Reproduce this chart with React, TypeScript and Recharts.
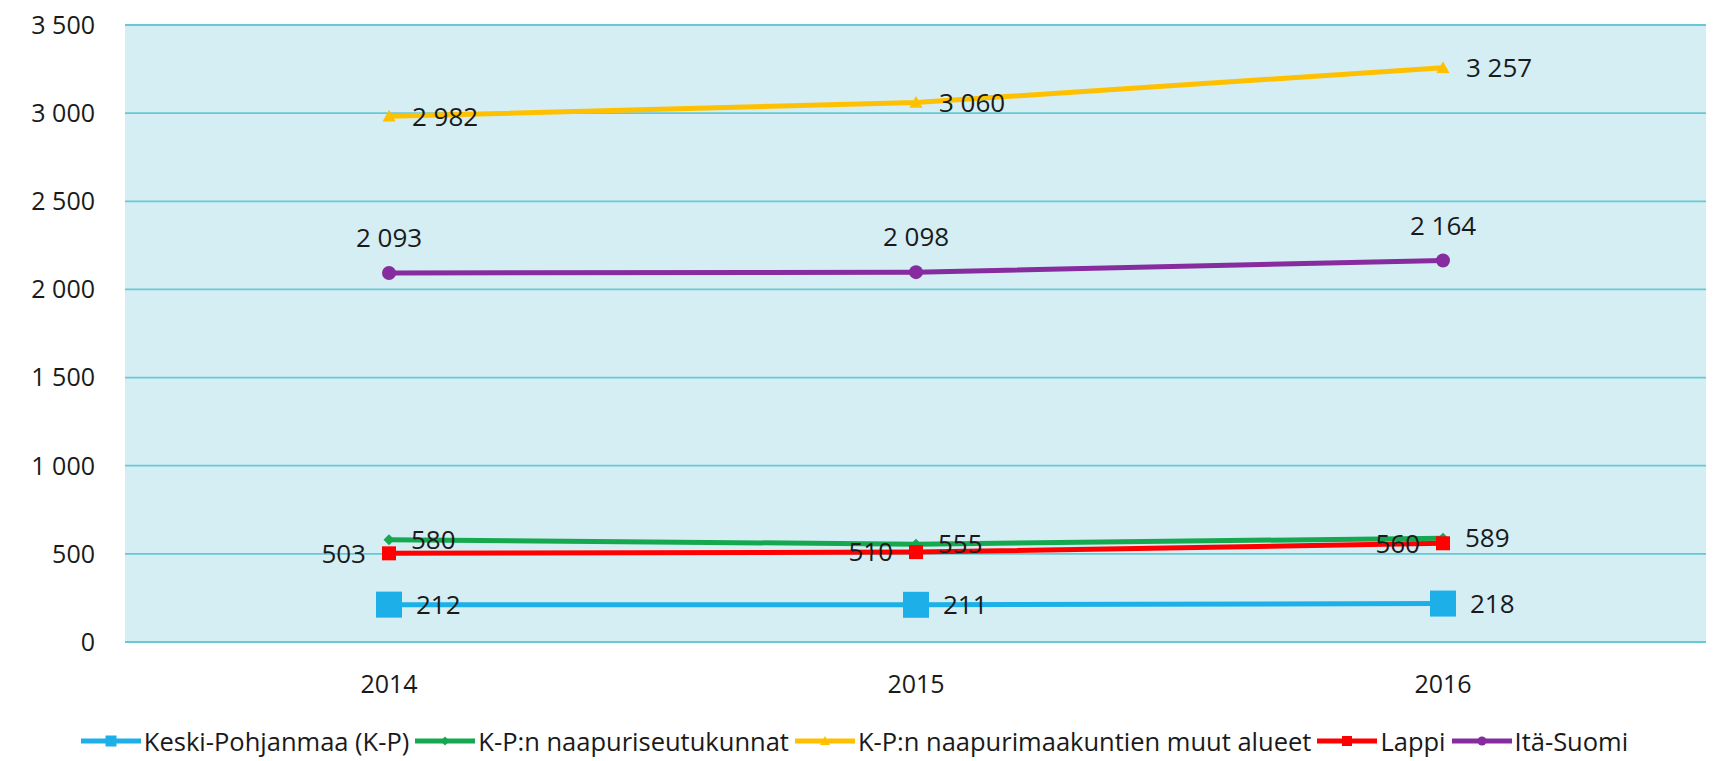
import React from 'react';
import { LineChart, Line, XAxis, YAxis, CartesianGrid, Legend, LabelList } from 'recharts';

const years = ['2014', '2015', '2016'];
const keskiPohjanmaa = [212, 211, 218];
const naapuriseutukunnat = [580, 555, 589];
const muutAlueet = [2982, 3060, 3257];
const lappi = [503, 510, 560];
const itaSuomi = [2093, 2098, 2164];
const yTicks = [0, 500, 1000, 1500, 2000, 2500, 3000, 3500];

const seriesNames = {
  kp: 'Keski-Pohjanmaa (K-P)',
  naapuri: 'K-P:n naapuriseutukunnat',
  muut: 'K-P:n naapurimaakuntien muut alueet',
  lappi: 'Lappi',
  ita: 'Itä-Suomi',
};

const data = years.map((year, i) => ({
  year,
  kp: keskiPohjanmaa[i],
  naapuri: naapuriseutukunnat[i],
  muut: muutAlueet[i],
  lappi: lappi[i],
  ita: itaSuomi[i],
}));

const FONT = '"Open Sans", "Noto Sans", sans-serif';
const TEXT = '#1a1a1a';

const COLORS = {
  kp: '#1DAFE8',
  naapuri: '#16A84F',
  muut: '#FFC000',
  lappi: '#FF0000',
  ita: '#862C9E',
};

const fmt = (v: any) => {
  const n = Number(v);
  if (n >= 1000) return `${Math.floor(n / 1000)} ${String(n % 1000).padStart(3, '0')}`;
  return String(n);
};

const shapeEl = (shape: string, cx: number, cy: number, size: number, color: string, key?: any) => {
  const h = size / 2;
  if (shape === 'square') return <rect key={key} x={cx - h} y={cy - h} width={size} height={size} fill={color} />;
  if (shape === 'diamond')
    return <polygon key={key} points={`${cx},${cy - h} ${cx + h},${cy} ${cx},${cy + h} ${cx - h},${cy}`} fill={color} />;
  if (shape === 'triangle')
    return <polygon key={key} points={`${cx},${cy - h} ${cx + h},${cy + h * 0.8} ${cx - h},${cy + h * 0.8}`} fill={color} />;
  return <circle key={key} cx={cx} cy={cy} r={h} fill={color} />;
};

const makeDot = (shape: string, size: number, color: string) => (props: any) => {
  const { cx, cy, index } = props;
  const k = `${shape}-${color}-${index}`;
  if (cx == null || cy == null) return <g key={k} />;
  return shapeEl(shape, cx, cy, size, color, k);
};

const legendItems = [
  { key: 'kp', shape: 'square', size: 11 },
  { key: 'naapuri', shape: 'diamond', size: 9 },
  { key: 'muut', shape: 'triangle', size: 10 },
  { key: 'lappi', shape: 'square', size: 10 },
  { key: 'ita', shape: 'circle', size: 9 },
] as const;

const renderLegend = () => (
  <div
    style={{
      display: 'flex',
      justifyContent: 'center',
      alignItems: 'center',
      height: 40,
      fontFamily: FONT,
      fontSize: 25.5,
      color: TEXT,
      whiteSpace: 'nowrap',
    }}
  >
    {legendItems.map((it) => {
      const color = (COLORS as any)[it.key];
      return (
        <span key={it.key} style={{ display: 'inline-flex', alignItems: 'center', marginRight: 6 }}>
          <svg width={60} height={24} style={{ display: 'block' }}>
            <line x1={0} y1={12} x2={60} y2={12} stroke={color} strokeWidth={5} />
            {shapeEl(it.shape, 30, 12, it.size, color)}
          </svg>
          <span style={{ marginLeft: 3 }}>{(seriesNames as any)[it.key]}</span>
        </span>
      );
    })}
  </div>
);

const labelStyle = { fontSize: 26, fontFamily: FONT, fill: TEXT };
const tickStyle = { fontSize: 25, fontFamily: FONT, fill: TEXT };

export default function App() {
  return (
    <div style={{ width: 1706, height: 753 }}>
      <LineChart width={1706} height={753} data={data} margin={{ top: 17, right: 7, left: 0, bottom: 0 }}>
        <CartesianGrid vertical={false} stroke="#69C9D3" strokeWidth={1.8} fill="#D4EEF4" fillOpacity={1} />
        <XAxis
          dataKey="year"
          axisLine={false}
          tickLine={false}
          tickSize={0}
          tickMargin={33}
          height={79}
          padding={{ left: 264, right: 264 }}
          tick={tickStyle}
        />
        <YAxis
          width={117}
          domain={[0, 3500]}
          ticks={yTicks}
          axisLine={false}
          tickLine={false}
          tickSize={0}
          tickMargin={30}
          tickFormatter={fmt}
          tick={tickStyle}
        />
        <Legend verticalAlign="bottom" align="center" content={renderLegend} />
        <Line
          dataKey="kp"
          name={seriesNames.kp}
          stroke={COLORS.kp}
          strokeWidth={5}
          dot={makeDot('square', 26, COLORS.kp)}
          activeDot={false}
          isAnimationActive={false}
        >
          <LabelList dataKey="kp" position="right" offset={27} formatter={fmt} style={labelStyle} />
        </Line>
        <Line
          dataKey="naapuri"
          name={seriesNames.naapuri}
          stroke={COLORS.naapuri}
          strokeWidth={5}
          dot={makeDot('diamond', 11, COLORS.naapuri)}
          activeDot={false}
          isAnimationActive={false}
        >
          <LabelList dataKey="naapuri" position="right" offset={22} formatter={fmt} style={labelStyle} />
        </Line>
        <Line
          dataKey="muut"
          name={seriesNames.muut}
          stroke={COLORS.muut}
          strokeWidth={5}
          dot={makeDot('triangle', 13, COLORS.muut)}
          activeDot={false}
          isAnimationActive={false}
        >
          <LabelList dataKey="muut" position="right" offset={23} formatter={fmt} style={labelStyle} />
        </Line>
        <Line
          dataKey="lappi"
          name={seriesNames.lappi}
          stroke={COLORS.lappi}
          strokeWidth={5}
          dot={makeDot('square', 14, COLORS.lappi)}
          activeDot={false}
          isAnimationActive={false}
        >
          <LabelList dataKey="lappi" position="left" offset={23} formatter={fmt} style={labelStyle} />
        </Line>
        <Line
          dataKey="ita"
          name={seriesNames.ita}
          stroke={COLORS.ita}
          strokeWidth={5}
          dot={makeDot('circle', 14, COLORS.ita)}
          activeDot={false}
          isAnimationActive={false}
        >
          <LabelList dataKey="ita" position="top" offset={26} formatter={fmt} style={labelStyle} />
        </Line>
      </LineChart>
    </div>
  );
}
